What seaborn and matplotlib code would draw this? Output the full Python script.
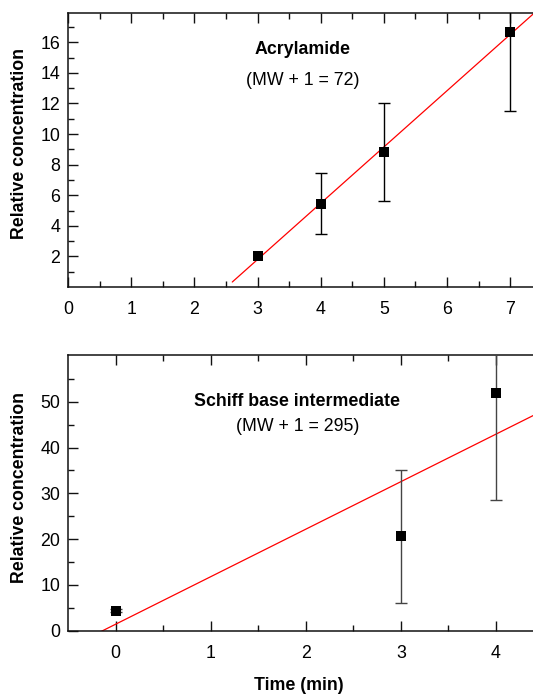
import matplotlib
matplotlib.use("Agg")
import matplotlib.pyplot as plt
import numpy as np
import pandas as pd
import seaborn as sns

# acrylamide (MW + 1 = 72)
acr_time = [3, 4, 5, 7]
acr_conc = [2.0, 5.45, 8.8, 16.7]
acr_err = [np.nan, 2.0, 3.2, 5.2]

# Schiff base intermediate (MW + 1 = 295)
sb_time = [0, 3, 4]
sb_conc = [4.4, 20.6, 51.9]
sb_err = [0.3, 14.5, 23.3]

sns.set_style("ticks")
plt.rcParams['font.family'] = ['Liberation Sans', 'DejaVu Sans']
plt.rcParams['text.color'] = 'black'
plt.rcParams['axes.labelcolor'] = 'black'
FS = 12.8

fig = plt.figure(figsize=(5.33, 6.95), dpi=100)
ax1 = fig.add_axes([0.1276, 0.587, 0.8724, 0.394])
ax2 = fig.add_axes([0.1276, 0.0925, 0.8724, 0.3965])


def panel(ax, t, c, e, x_fit, err_color):
    df = pd.DataFrame({"t": t, "c": c})
    slope, icpt = np.polyfit(t, c, 1)
    xf = np.array(x_fit)
    ax.plot(xf, slope * xf + icpt, color="#ff0000", lw=0.9, zorder=2)
    ax.errorbar(t, c, yerr=e, fmt="none", ecolor=err_color, elinewidth=1.0,
                capsize=4.5, capthick=1.0, zorder=3)
    sns.scatterplot(data=df, x="t", y="c", marker="s", s=44, color="black",
                    edgecolor="black", linewidth=0, ax=ax, zorder=4)
    for s in ["top", "left", "bottom"]:
        ax.spines[s].set_linewidth(1.1)
        ax.spines[s].set_color("#111111")
    ax.spines["right"].set_visible(False)
    ax.tick_params(which="both", direction="in", top=True, right=False,
                   labelsize=FS, color="#111111", labelcolor="black", width=1.0)
    ax.tick_params(which="major", length=7)
    ax.tick_params(which="minor", length=4)
    ax.tick_params(axis="x", which="both", pad=10)
    ax.tick_params(axis="y", which="both", pad=5.5)
    ax.set_ylabel("Relative concentration", fontsize=FS, fontweight="bold",
                  color="black", va="center")
    ax.set_xlabel("")


panel(ax1, acr_time, acr_conc, acr_err, [2.6, 7.5], "black")
ax1.set_xlim(0, 7.36)
ax1.set_ylim(0, 17.9)
ax1.set_xticks(np.arange(0, 8, 1))
ax1.set_xticks(np.arange(0.5, 7.5, 1), minor=True)
ax1.set_yticks(np.arange(2, 17, 2))
ax1.set_yticks(np.arange(1, 18, 2), minor=True)
ax1.yaxis.set_label_coords(-0.105, 0.526)
ax1.text(0.505, 0.869, "Acrylamide", transform=ax1.transAxes, ha="center",
         va="center", fontsize=FS, fontweight="bold", color="black")
ax1.text(0.505, 0.755, "(MW + 1 = 72)", transform=ax1.transAxes, ha="center",
         va="center", fontsize=FS, color="black")

panel(ax2, sb_time, sb_conc, sb_err, [-0.5, 4.5], "#444444")
ax2.set_xlim(-0.5, 4.39)
ax2.set_ylim(0, 60.2)
ax2.set_xticks(np.arange(0, 5, 1))
ax2.set_xticks(np.arange(0.5, 4.5, 1), minor=True)
ax2.set_yticks(np.arange(0, 51, 10))
ax2.set_yticks(np.arange(5, 60, 10), minor=True)
ax2.yaxis.set_label_coords(-0.105, 0.52)
ax2.set_xlabel("Time (min)", fontsize=FS, fontweight="bold", va="center",
               color="black")
ax2.xaxis.set_label_coords(0.496, -0.2)
ax2.text(0.492, 0.833, "Schiff base intermediate", transform=ax2.transAxes,
         ha="center", va="center", fontsize=FS, fontweight="bold", color="black")
ax2.text(0.495, 0.74, "(MW + 1 = 295)", transform=ax2.transAxes, ha="center",
         va="center", fontsize=FS, color="black")

fig.savefig("out.png", dpi=100)
